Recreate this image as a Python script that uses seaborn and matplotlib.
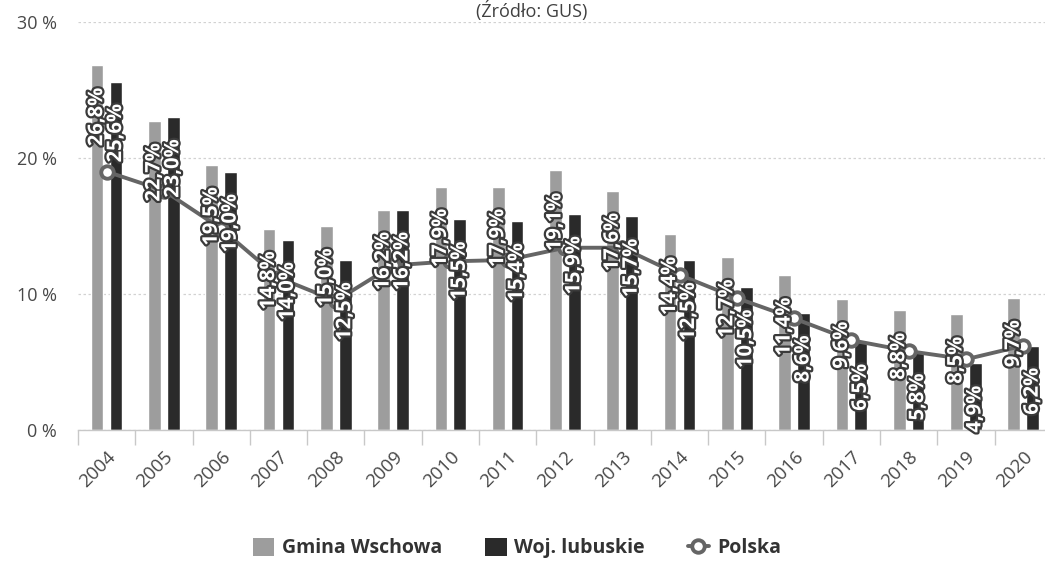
import numpy as np
import pandas as pd
import matplotlib
matplotlib.use("Agg")
import matplotlib.pyplot as plt
import matplotlib.patheffects as pe
from matplotlib.patches import Patch
from matplotlib.lines import Line2D
import seaborn as sns

# ---- data ----
years = [str(y) for y in range(2004, 2021)]
gmina = [26.8, 22.7, 19.5, 14.8, 15.0, 16.2, 17.9, 17.9, 19.1, 17.6, 14.4, 12.7, 11.4, 9.6, 8.8, 8.5, 9.7]
woj = [25.6, 23.0, 19.0, 14.0, 12.5, 16.2, 15.5, 15.4, 15.9, 15.7, 12.5, 10.5, 8.6, 6.5, 5.8, 4.9, 6.2]
polska = [19.0, 17.6, 14.8, 11.2, 9.5, 12.1, 12.4, 12.5, 13.4, 13.4, 11.4, 9.7, 8.2, 6.6, 5.8, 5.2, 6.2]
series_names = ["Gmina Wschowa", "Woj. lubuskie", "Polska"]
ytick_vals = [0, 10, 20, 30]
ytick_labels = ["0 %", "10 %", "20 %", "30 %"]
title_text = "(Źródło: GUS)"

c_gmina = "#9d9d9d"
c_woj = "#2a2a2a"
c_line = "#656565"

df = pd.DataFrame({
    "year": years * 2,
    "value": gmina + woj,
    "series": [series_names[0]] * len(years) + [series_names[1]] * len(years),
})

sns.set_theme(style="white")
plt.rcParams["font.family"] = ["Open Sans", "DejaVu Sans"]

fig = plt.figure(figsize=(10.45, 5.62), dpi=100)
ax = fig.add_axes([0.0746, 0.2349, 0.932, 0.726])

sns.barplot(data=df, x="year", y="value", hue="series", order=years,
            hue_order=series_names[:2], palette=[c_gmina, c_woj],
            width=0.66, gap=0.33, saturation=1, legend=False, ax=ax, zorder=2)

sns.pointplot(x=years, y=polska, order=years, color=c_line, markers="o",
              markersize=9, linewidth=2.8, markerfacecolor="white",
              markeredgecolor=c_line, markeredgewidth=2.8, ax=ax, zorder=4)

# data labels
for cont in ax.containers:
    for bar in cont:
        h = bar.get_height()
        ax.annotate(f"{h:.1f}%".replace(".", ","),
                    xy=(bar.get_x() + bar.get_width() / 2, h),
                    xytext=(0, -16), textcoords="offset points",
                    rotation=90, ha="center", va="top",
                    fontsize=14.5, fontweight="bold", color="white", zorder=6,
                    path_effects=[pe.withStroke(linewidth=3.2, foreground="#3a3a3a")])

ax.set_xlim(-0.5, len(years) - 0.5)
ax.set_ylim(0, 30)
ax.set_yticks(ytick_vals)
ax.set_yticklabels(ytick_labels, fontsize=13, color="#484848")
ax.yaxis.grid(True, color="#d2d2d2", linestyle=(0, (2, 2)), linewidth=0.9)
ax.set_axisbelow(True)
ax.set_xlabel("")
ax.set_ylabel("")
for s in ["left", "right", "top"]:
    ax.spines[s].set_visible(False)
ax.spines["bottom"].set_color("#c8c8c8")
ax.spines["bottom"].set_linewidth(1)

ax.set_xticks(range(len(years)))
ax.set_xticklabels(years, rotation=45, ha="right", rotation_mode="anchor",
                   fontsize=13.5, color="#484848")
ax.set_xticks(np.arange(-0.5, len(years), 1), minor=True)
ax.tick_params(axis="x", which="major", length=0, pad=13)
ax.tick_params(axis="x", which="minor", length=11, width=1, color="#c8c8c8", bottom=True)
ax.tick_params(axis="y", length=0, pad=15)

fig.text(532 / 1045, 1 - 17 / 562, title_text, ha="center", va="baseline",
         fontsize=13, color="#404040")

handles = [
    Patch(facecolor=c_gmina, edgecolor="none"),
    Patch(facecolor=c_woj, edgecolor="none"),
    Line2D([0], [0], color=c_line, linewidth=2.8, marker="o", markersize=9,
           markerfacecolor="white", markeredgecolor=c_line, markeredgewidth=2.8),
]
fig.legend(handles, series_names, loc="center", bbox_to_anchor=(517 / 1045, 1 - 548 / 562),
           ncol=3, frameon=False, prop={"weight": "bold", "size": 14},
           handlelength=1.1, handleheight=1.1, handletextpad=0.4, columnspacing=2.2,
           labelcolor="#333333")

fig.savefig("out.png", dpi=100)
